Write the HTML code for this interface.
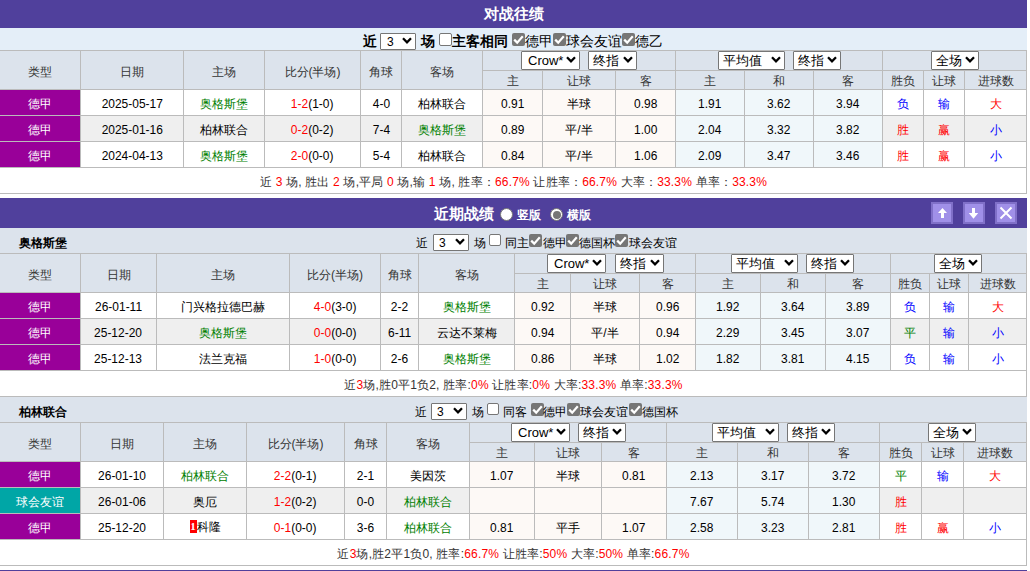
<!DOCTYPE html>
<html><head><meta charset="utf-8"><style>
html,body{margin:0;padding:0;background:#fff;}
body{width:1030px;height:571px;overflow:hidden;position:relative;font-family:"Liberation Sans",sans-serif;font-size:12px;color:#000000;}
body>div,body>span{position:absolute;box-sizing:content-box;}
.t{position:absolute;white-space:nowrap;line-height:16px;}
.c{display:flex;align-items:center;justify-content:center;white-space:nowrap;font-size:12px;}
.sel{background:#fff;border:1px solid #767676;border-radius:1px;}
.cb.on{background:#767676;border-radius:2px;}
.cb.off{background:#fff;border:1px solid #767676;border-radius:2px;}
.radio{border-radius:50%;}
</style></head><body>
<div style="left:0px;top:0px;width:1027px;height:28px;background:#50409c"></div><div class="c" style="left:0px;top:0px;width:1027px;height:28px;color:#fff;font-weight:bold;font-size:15px"><span>对战往绩</span></div><div style="left:0px;top:28px;width:1027px;height:22px;background:#e4eef8"></div><span class="t" style="left:363px;top:33px;font-weight:bold;font-size:14px">近</span><div class="sel" style="left:380px;top:33px;width:34px;height:15px;"><span style="position:absolute;left:6px;top:1px;line-height:15px;font-size:12px">3</span><svg width="10" height="7" viewBox="0 0 10 7" style="position:absolute;right:3px;top:50%;margin-top:-4.5px"><path d="M1 1.3 L5 5.3 L9 1.3" fill="none" stroke="#000" stroke-width="2.3"/></svg></div><span class="t" style="left:421px;top:33px;font-weight:bold;font-size:14px">场</span><div class="cb off" style="left:439px;top:33px;width:11px;height:11px;"></div><span class="t" style="left:452px;top:33px;font-weight:bold;font-size:14px">主客相同</span><div class="cb on" style="left:512px;top:33px;width:13px;height:13px;"><svg width="13" height="13" viewBox="0 0 13 13" style="position:absolute;left:0;top:0"><path d="M2.2 6.6 L5.2 9.6 L10.8 3.2" fill="none" stroke="#fff" stroke-width="2.2"/></svg></div><span class="t" style="left:525px;top:33px;font-size:14px">德甲</span><div class="cb on" style="left:553px;top:33px;width:13px;height:13px;"><svg width="13" height="13" viewBox="0 0 13 13" style="position:absolute;left:0;top:0"><path d="M2.2 6.6 L5.2 9.6 L10.8 3.2" fill="none" stroke="#fff" stroke-width="2.2"/></svg></div><span class="t" style="left:566px;top:33px;font-size:14px">球会友谊</span><div class="cb on" style="left:622px;top:33px;width:13px;height:13px;"><svg width="13" height="13" viewBox="0 0 13 13" style="position:absolute;left:0;top:0"><path d="M2.2 6.6 L5.2 9.6 L10.8 3.2" fill="none" stroke="#fff" stroke-width="2.2"/></svg></div><span class="t" style="left:635px;top:33px;font-size:14px">德乙</span><div style="left:0px;top:50px;width:1027px;height:40px;background:#dce3ec"></div><div style="left:0px;top:50px;width:1027px;height:1px;background:#bbbbbb"></div><div style="left:482px;top:70px;width:544px;height:1px;background:#bbbbbb"></div><div style="left:0px;top:89px;width:1027px;height:1px;background:#bbbbbb"></div><div class="c" style="left:0px;top:53px;width:80px;height:38px;color:#333"><span>类型</span></div><div class="c" style="left:81px;top:53px;width:102px;height:38px;color:#333"><span>日期</span></div><div class="c" style="left:184px;top:53px;width:80px;height:38px;color:#333"><span>主场</span></div><div class="c" style="left:265px;top:53px;width:95px;height:38px;color:#333"><span>比分(半场)</span></div><div class="c" style="left:361px;top:53px;width:40px;height:38px;color:#333"><span>角球</span></div><div class="c" style="left:402px;top:53px;width:80px;height:38px;color:#333"><span>客场</span></div><div class="c" style="left:483px;top:72px;width:59px;height:18px;color:#333"><span>主</span></div><div class="c" style="left:543px;top:72px;width:72px;height:18px;color:#333"><span>让球</span></div><div class="c" style="left:616px;top:72px;width:59px;height:18px;color:#333"><span>客</span></div><div class="c" style="left:676px;top:72px;width:68px;height:18px;color:#333"><span>主</span></div><div class="c" style="left:745px;top:72px;width:68px;height:18px;color:#333"><span>和</span></div><div class="c" style="left:814px;top:72px;width:68px;height:18px;color:#333"><span>客</span></div><div class="c" style="left:883px;top:72px;width:40px;height:18px;color:#333"><span>胜负</span></div><div class="c" style="left:924px;top:72px;width:40px;height:18px;color:#333"><span>让球</span></div><div class="c" style="left:965px;top:72px;width:61px;height:18px;color:#333"><span>进球数</span></div><div class="sel" style="left:521px;top:51px;width:57px;height:17px;"><span style="position:absolute;left:6px;top:0px;line-height:17px;font-size:13px">Crow*</span><svg width="10" height="7" viewBox="0 0 10 7" style="position:absolute;right:3px;top:50%;margin-top:-4.5px"><path d="M1 1.3 L5 5.3 L9 1.3" fill="none" stroke="#000" stroke-width="2.3"/></svg></div><div class="sel" style="left:588px;top:51px;width:47px;height:17px;"><span style="position:absolute;left:4px;top:0px;line-height:17px;font-size:13px">终指</span><svg width="10" height="7" viewBox="0 0 10 7" style="position:absolute;right:3px;top:50%;margin-top:-4.5px"><path d="M1 1.3 L5 5.3 L9 1.3" fill="none" stroke="#000" stroke-width="2.3"/></svg></div><div class="sel" style="left:718px;top:51px;width:65px;height:17px;"><span style="position:absolute;left:4px;top:0px;line-height:17px;font-size:13px">平均值</span><svg width="10" height="7" viewBox="0 0 10 7" style="position:absolute;right:3px;top:50%;margin-top:-4.5px"><path d="M1 1.3 L5 5.3 L9 1.3" fill="none" stroke="#000" stroke-width="2.3"/></svg></div><div class="sel" style="left:793px;top:51px;width:46px;height:17px;"><span style="position:absolute;left:4px;top:0px;line-height:17px;font-size:13px">终指</span><svg width="10" height="7" viewBox="0 0 10 7" style="position:absolute;right:3px;top:50%;margin-top:-4.5px"><path d="M1 1.3 L5 5.3 L9 1.3" fill="none" stroke="#000" stroke-width="2.3"/></svg></div><div class="sel" style="left:931px;top:51px;width:46px;height:17px;"><span style="position:absolute;left:4px;top:0px;line-height:17px;font-size:13px">全场</span><svg width="10" height="7" viewBox="0 0 10 7" style="position:absolute;right:3px;top:50%;margin-top:-4.5px"><path d="M1 1.3 L5 5.3 L9 1.3" fill="none" stroke="#000" stroke-width="2.3"/></svg></div><div style="left:0px;top:90px;width:1027px;height:25px;background:#ffffff"></div><div style="left:483px;top:90px;width:192px;height:25px;background:#fdf9f6"></div><div style="left:676px;top:90px;width:206px;height:25px;background:#f0f7fa"></div><div style="left:0px;top:90px;width:80px;height:25px;background:#990099"></div><div class="c" style="left:0px;top:92px;width:80px;height:25px;color:#ffffff"><span>德甲</span></div><div class="c" style="left:81px;top:91px;width:102px;height:25px;color:#000000"><span><span style="display:inline-block;font-size:13px;transform:scaleX(0.92)">2025-05-17</span></span></div><div class="c" style="left:184px;top:92px;width:80px;height:25px;color:#008000"><span>奥格斯堡</span></div><div class="c" style="left:265px;top:91px;width:95px;height:25px;color:#000000"><span><span style="display:inline-block;font-size:13px;transform:scaleX(0.92)"><span style="color:#ff0000">1-2</span>(1-0)</span></span></div><div class="c" style="left:361px;top:91px;width:40px;height:25px;color:#000000"><span><span style="display:inline-block;font-size:13px;transform:scaleX(0.92)">4-0</span></span></div><div class="c" style="left:402px;top:92px;width:80px;height:25px;color:#000000"><span>柏林联合</span></div><div class="c" style="left:483px;top:91px;width:59px;height:25px;color:#000000"><span><span style="display:inline-block;font-size:13px;transform:scaleX(0.92)">0.91</span></span></div><div class="c" style="left:543px;top:92px;width:72px;height:25px;color:#000000"><span>半球</span></div><div class="c" style="left:616px;top:91px;width:59px;height:25px;color:#000000"><span><span style="display:inline-block;font-size:13px;transform:scaleX(0.92)">0.98</span></span></div><div class="c" style="left:676px;top:91px;width:68px;height:25px;color:#000000"><span><span style="display:inline-block;font-size:13px;transform:scaleX(0.92)">1.91</span></span></div><div class="c" style="left:745px;top:91px;width:68px;height:25px;color:#000000"><span><span style="display:inline-block;font-size:13px;transform:scaleX(0.92)">3.62</span></span></div><div class="c" style="left:814px;top:91px;width:68px;height:25px;color:#000000"><span><span style="display:inline-block;font-size:13px;transform:scaleX(0.92)">3.94</span></span></div><div class="c" style="left:883px;top:92px;width:40px;height:25px;color:#0000ff"><span>负</span></div><div class="c" style="left:924px;top:92px;width:40px;height:25px;color:#0000ff"><span>输</span></div><div class="c" style="left:965px;top:92px;width:61px;height:25px;color:#ff0000"><span>大</span></div><div style="left:0px;top:115px;width:1027px;height:1px;background:#bbbbbb"></div><div style="left:0px;top:116px;width:1027px;height:25px;background:#efefef"></div><div style="left:483px;top:116px;width:192px;height:25px;background:#fdf9f6"></div><div style="left:676px;top:116px;width:206px;height:25px;background:#f0f7fa"></div><div style="left:0px;top:116px;width:80px;height:25px;background:#990099"></div><div class="c" style="left:0px;top:118px;width:80px;height:25px;color:#ffffff"><span>德甲</span></div><div class="c" style="left:81px;top:117px;width:102px;height:25px;color:#000000"><span><span style="display:inline-block;font-size:13px;transform:scaleX(0.92)">2025-01-16</span></span></div><div class="c" style="left:184px;top:118px;width:80px;height:25px;color:#000000"><span>柏林联合</span></div><div class="c" style="left:265px;top:117px;width:95px;height:25px;color:#000000"><span><span style="display:inline-block;font-size:13px;transform:scaleX(0.92)"><span style="color:#ff0000">0-2</span>(0-2)</span></span></div><div class="c" style="left:361px;top:117px;width:40px;height:25px;color:#000000"><span><span style="display:inline-block;font-size:13px;transform:scaleX(0.92)">7-4</span></span></div><div class="c" style="left:402px;top:118px;width:80px;height:25px;color:#008000"><span>奥格斯堡</span></div><div class="c" style="left:483px;top:117px;width:59px;height:25px;color:#000000"><span><span style="display:inline-block;font-size:13px;transform:scaleX(0.92)">0.89</span></span></div><div class="c" style="left:543px;top:118px;width:72px;height:25px;color:#000000"><span>平/半</span></div><div class="c" style="left:616px;top:117px;width:59px;height:25px;color:#000000"><span><span style="display:inline-block;font-size:13px;transform:scaleX(0.92)">1.00</span></span></div><div class="c" style="left:676px;top:117px;width:68px;height:25px;color:#000000"><span><span style="display:inline-block;font-size:13px;transform:scaleX(0.92)">2.04</span></span></div><div class="c" style="left:745px;top:117px;width:68px;height:25px;color:#000000"><span><span style="display:inline-block;font-size:13px;transform:scaleX(0.92)">3.32</span></span></div><div class="c" style="left:814px;top:117px;width:68px;height:25px;color:#000000"><span><span style="display:inline-block;font-size:13px;transform:scaleX(0.92)">3.82</span></span></div><div class="c" style="left:883px;top:118px;width:40px;height:25px;color:#ff0000"><span>胜</span></div><div class="c" style="left:924px;top:118px;width:40px;height:25px;color:#ff0000"><span>赢</span></div><div class="c" style="left:965px;top:118px;width:61px;height:25px;color:#0000ff"><span>小</span></div><div style="left:0px;top:141px;width:1027px;height:1px;background:#bbbbbb"></div><div style="left:0px;top:142px;width:1027px;height:25px;background:#ffffff"></div><div style="left:483px;top:142px;width:192px;height:25px;background:#fdf9f6"></div><div style="left:676px;top:142px;width:206px;height:25px;background:#f0f7fa"></div><div style="left:0px;top:142px;width:80px;height:25px;background:#990099"></div><div class="c" style="left:0px;top:144px;width:80px;height:25px;color:#ffffff"><span>德甲</span></div><div class="c" style="left:81px;top:143px;width:102px;height:25px;color:#000000"><span><span style="display:inline-block;font-size:13px;transform:scaleX(0.92)">2024-04-13</span></span></div><div class="c" style="left:184px;top:144px;width:80px;height:25px;color:#008000"><span>奥格斯堡</span></div><div class="c" style="left:265px;top:143px;width:95px;height:25px;color:#000000"><span><span style="display:inline-block;font-size:13px;transform:scaleX(0.92)"><span style="color:#ff0000">2-0</span>(0-0)</span></span></div><div class="c" style="left:361px;top:143px;width:40px;height:25px;color:#000000"><span><span style="display:inline-block;font-size:13px;transform:scaleX(0.92)">5-4</span></span></div><div class="c" style="left:402px;top:144px;width:80px;height:25px;color:#000000"><span>柏林联合</span></div><div class="c" style="left:483px;top:143px;width:59px;height:25px;color:#000000"><span><span style="display:inline-block;font-size:13px;transform:scaleX(0.92)">0.84</span></span></div><div class="c" style="left:543px;top:144px;width:72px;height:25px;color:#000000"><span>平/半</span></div><div class="c" style="left:616px;top:143px;width:59px;height:25px;color:#000000"><span><span style="display:inline-block;font-size:13px;transform:scaleX(0.92)">1.06</span></span></div><div class="c" style="left:676px;top:143px;width:68px;height:25px;color:#000000"><span><span style="display:inline-block;font-size:13px;transform:scaleX(0.92)">2.09</span></span></div><div class="c" style="left:745px;top:143px;width:68px;height:25px;color:#000000"><span><span style="display:inline-block;font-size:13px;transform:scaleX(0.92)">3.47</span></span></div><div class="c" style="left:814px;top:143px;width:68px;height:25px;color:#000000"><span><span style="display:inline-block;font-size:13px;transform:scaleX(0.92)">3.46</span></span></div><div class="c" style="left:883px;top:144px;width:40px;height:25px;color:#ff0000"><span>胜</span></div><div class="c" style="left:924px;top:144px;width:40px;height:25px;color:#ff0000"><span>赢</span></div><div class="c" style="left:965px;top:144px;width:61px;height:25px;color:#0000ff"><span>小</span></div><div style="left:0px;top:167px;width:1027px;height:1px;background:#bbbbbb"></div><div style="left:0px;top:168px;width:1027px;height:25px;background:#fff"></div><div class="c" style="left:0px;top:170px;width:1027px;height:25px;letter-spacing:0.18px;color:#333"><span>近 <span style="color:#ff0000">3</span> 场, 胜出 <span style="color:#ff0000">2</span> 场,平局 <span style="color:#ff0000">0</span> 场,输 <span style="color:#ff0000">1</span> 场, 胜率：<span style="color:#ff0000">66.7%</span> 让胜率：<span style="color:#ff0000">66.7%</span> 大率：<span style="color:#ff0000">33.3%</span> 单率：<span style="color:#ff0000">33.3%</span></span></div><div style="left:0px;top:193px;width:1027px;height:1px;background:#bbbbbb"></div><div style="left:80px;top:50px;width:1px;height:118px;background:#bbbbbb"></div><div style="left:183px;top:50px;width:1px;height:118px;background:#bbbbbb"></div><div style="left:264px;top:50px;width:1px;height:118px;background:#bbbbbb"></div><div style="left:360px;top:50px;width:1px;height:118px;background:#bbbbbb"></div><div style="left:401px;top:50px;width:1px;height:118px;background:#bbbbbb"></div><div style="left:482px;top:50px;width:1px;height:118px;background:#bbbbbb"></div><div style="left:542px;top:70px;width:1px;height:98px;background:#bbbbbb"></div><div style="left:615px;top:70px;width:1px;height:98px;background:#bbbbbb"></div><div style="left:675px;top:50px;width:1px;height:118px;background:#bbbbbb"></div><div style="left:744px;top:70px;width:1px;height:98px;background:#bbbbbb"></div><div style="left:813px;top:70px;width:1px;height:98px;background:#bbbbbb"></div><div style="left:882px;top:50px;width:1px;height:118px;background:#bbbbbb"></div><div style="left:923px;top:70px;width:1px;height:98px;background:#bbbbbb"></div><div style="left:964px;top:70px;width:1px;height:98px;background:#bbbbbb"></div><div style="left:1026px;top:50px;width:1px;height:118px;background:#bbbbbb"></div><div style="left:1026px;top:168px;width:1px;height:26px;background:#bbbbbb"></div><div style="left:0px;top:198px;width:1027px;height:30px;background:#50409c"></div><span class="t" style="left:434px;top:206px;color:#fff;font-weight:bold;font-size:15px">近期战绩</span><div class="radio" style="left:500px;top:208px;width:11px;height:11px;background:#fff;border:1px solid #767676"></div><span class="t" style="left:517px;top:207px;color:#fff;font-size:12px;font-weight:bold">竖版</span><div class="radio" style="left:550px;top:208px;width:11px;height:11px;background:#fff;border:1px solid #767676"><div style="position:absolute;left:1.5px;top:1.5px;width:8px;height:8px;border-radius:50%;background:#767676"></div></div><span class="t" style="left:567px;top:207px;color:#fff;font-size:12px;font-weight:bold">横版</span><div style="left:931px;top:202px;width:18px;height:18px;background:#a090e8;border:2px solid #8070c8"><svg width="22" height="22" viewBox="0 0 22 22" style="position:absolute;left:-2px;top:-2px"><path d="M11.5 6 L16 11 L13 11 L13 16 L10 16 L10 11 L7 11 Z" fill="#fff"/></svg></div><div style="left:963px;top:202px;width:18px;height:18px;background:#a090e8;border:2px solid #8070c8"><svg width="22" height="22" viewBox="0 0 22 22" style="position:absolute;left:-2px;top:-2px"><path d="M9 6 L12 6 L12 11 L15.2 11 L10.5 16.8 L5.8 11 L9 11 Z" fill="#fff"/></svg></div><div style="left:995px;top:202px;width:18px;height:18px;background:#a090e8;border:2px solid #8070c8"><svg width="22" height="22" viewBox="0 0 22 22" style="position:absolute;left:-2px;top:-2px"><path d="M5.5 5.5 L16.5 16.5 M16.5 5.5 L5.5 16.5" stroke="#fff" stroke-width="2" fill="none"/></svg></div><div style="left:0px;top:228px;width:1027px;height:25px;background:#dce3ec"></div><span class="t" style="left:19px;top:235px;font-weight:bold;font-size:12px">奥格斯堡</span><span class="t" style="left:416px;top:235px;font-size:12px">近</span><div class="sel" style="left:433px;top:234px;width:34px;height:15px;"><span style="position:absolute;left:5px;top:1px;line-height:15px;font-size:12px">3</span><svg width="10" height="7" viewBox="0 0 10 7" style="position:absolute;right:3px;top:50%;margin-top:-4.5px"><path d="M1 1.3 L5 5.3 L9 1.3" fill="none" stroke="#000" stroke-width="2.3"/></svg></div><span class="t" style="left:474px;top:235px;font-size:12px">场</span><div class="cb off" style="left:489px;top:234px;width:10px;height:10px;"></div><span class="t" style="left:505px;top:235px;font-size:12px">同主</span><div class="cb on" style="left:529px;top:234px;width:13px;height:13px;"><svg width="13" height="13" viewBox="0 0 13 13" style="position:absolute;left:0;top:0"><path d="M2.2 6.6 L5.2 9.6 L10.8 3.2" fill="none" stroke="#fff" stroke-width="2.2"/></svg></div><span class="t" style="left:543px;top:235px;font-size:12px">德甲</span><div class="cb on" style="left:566px;top:234px;width:13px;height:13px;"><svg width="13" height="13" viewBox="0 0 13 13" style="position:absolute;left:0;top:0"><path d="M2.2 6.6 L5.2 9.6 L10.8 3.2" fill="none" stroke="#fff" stroke-width="2.2"/></svg></div><span class="t" style="left:579px;top:235px;font-size:12px">德国杯</span><div class="cb on" style="left:615px;top:234px;width:13px;height:13px;"><svg width="13" height="13" viewBox="0 0 13 13" style="position:absolute;left:0;top:0"><path d="M2.2 6.6 L5.2 9.6 L10.8 3.2" fill="none" stroke="#fff" stroke-width="2.2"/></svg></div><span class="t" style="left:629px;top:235px;font-size:12px">球会友谊</span><div style="left:0px;top:253px;width:1027px;height:40px;background:#dce3ec"></div><div style="left:0px;top:253px;width:1027px;height:1px;background:#bbbbbb"></div><div style="left:514px;top:273px;width:512px;height:1px;background:#bbbbbb"></div><div style="left:0px;top:292px;width:1027px;height:1px;background:#bbbbbb"></div><div class="c" style="left:0px;top:256px;width:80px;height:38px;color:#333"><span>类型</span></div><div class="c" style="left:81px;top:256px;width:75px;height:38px;color:#333"><span>日期</span></div><div class="c" style="left:157px;top:256px;width:132px;height:38px;color:#333"><span>主场</span></div><div class="c" style="left:290px;top:256px;width:90px;height:38px;color:#333"><span>比分(半场)</span></div><div class="c" style="left:381px;top:256px;width:37px;height:38px;color:#333"><span>角球</span></div><div class="c" style="left:419px;top:256px;width:95px;height:38px;color:#333"><span>客场</span></div><div class="c" style="left:515px;top:275px;width:55px;height:18px;color:#333"><span>主</span></div><div class="c" style="left:571px;top:275px;width:68px;height:18px;color:#333"><span>让球</span></div><div class="c" style="left:640px;top:275px;width:55px;height:18px;color:#333"><span>客</span></div><div class="c" style="left:696px;top:275px;width:64px;height:18px;color:#333"><span>主</span></div><div class="c" style="left:761px;top:275px;width:64px;height:18px;color:#333"><span>和</span></div><div class="c" style="left:826px;top:275px;width:64px;height:18px;color:#333"><span>客</span></div><div class="c" style="left:891px;top:275px;width:38px;height:18px;color:#333"><span>胜负</span></div><div class="c" style="left:930px;top:275px;width:38px;height:18px;color:#333"><span>让球</span></div><div class="c" style="left:969px;top:275px;width:57px;height:18px;color:#333"><span>进球数</span></div><div class="sel" style="left:547px;top:254px;width:57px;height:17px;"><span style="position:absolute;left:6px;top:0px;line-height:17px;font-size:13px">Crow*</span><svg width="10" height="7" viewBox="0 0 10 7" style="position:absolute;right:3px;top:50%;margin-top:-4.5px"><path d="M1 1.3 L5 5.3 L9 1.3" fill="none" stroke="#000" stroke-width="2.3"/></svg></div><div class="sel" style="left:615px;top:254px;width:47px;height:17px;"><span style="position:absolute;left:4px;top:0px;line-height:17px;font-size:13px">终指</span><svg width="10" height="7" viewBox="0 0 10 7" style="position:absolute;right:3px;top:50%;margin-top:-4.5px"><path d="M1 1.3 L5 5.3 L9 1.3" fill="none" stroke="#000" stroke-width="2.3"/></svg></div><div class="sel" style="left:731px;top:254px;width:65px;height:17px;"><span style="position:absolute;left:4px;top:0px;line-height:17px;font-size:13px">平均值</span><svg width="10" height="7" viewBox="0 0 10 7" style="position:absolute;right:3px;top:50%;margin-top:-4.5px"><path d="M1 1.3 L5 5.3 L9 1.3" fill="none" stroke="#000" stroke-width="2.3"/></svg></div><div class="sel" style="left:806px;top:254px;width:46px;height:17px;"><span style="position:absolute;left:4px;top:0px;line-height:17px;font-size:13px">终指</span><svg width="10" height="7" viewBox="0 0 10 7" style="position:absolute;right:3px;top:50%;margin-top:-4.5px"><path d="M1 1.3 L5 5.3 L9 1.3" fill="none" stroke="#000" stroke-width="2.3"/></svg></div><div class="sel" style="left:934px;top:254px;width:46px;height:17px;"><span style="position:absolute;left:4px;top:0px;line-height:17px;font-size:13px">全场</span><svg width="10" height="7" viewBox="0 0 10 7" style="position:absolute;right:3px;top:50%;margin-top:-4.5px"><path d="M1 1.3 L5 5.3 L9 1.3" fill="none" stroke="#000" stroke-width="2.3"/></svg></div><div style="left:0px;top:293px;width:1027px;height:25px;background:#ffffff"></div><div style="left:515px;top:293px;width:180px;height:25px;background:#fdf9f6"></div><div style="left:696px;top:293px;width:194px;height:25px;background:#f0f7fa"></div><div style="left:0px;top:293px;width:80px;height:25px;background:#990099"></div><div class="c" style="left:0px;top:295px;width:80px;height:25px;color:#ffffff"><span>德甲</span></div><div class="c" style="left:81px;top:294px;width:75px;height:25px;color:#000000"><span><span style="display:inline-block;font-size:13px;transform:scaleX(0.92)">26-01-11</span></span></div><div class="c" style="left:157px;top:295px;width:132px;height:25px;color:#000000"><span>门兴格拉德巴赫</span></div><div class="c" style="left:290px;top:294px;width:90px;height:25px;color:#000000"><span><span style="display:inline-block;font-size:13px;transform:scaleX(0.92)"><span style="color:#ff0000">4-0</span>(3-0)</span></span></div><div class="c" style="left:381px;top:294px;width:37px;height:25px;color:#000000"><span><span style="display:inline-block;font-size:13px;transform:scaleX(0.92)">2-2</span></span></div><div class="c" style="left:419px;top:295px;width:95px;height:25px;color:#008000"><span>奥格斯堡</span></div><div class="c" style="left:515px;top:294px;width:55px;height:25px;color:#000000"><span><span style="display:inline-block;font-size:13px;transform:scaleX(0.92)">0.92</span></span></div><div class="c" style="left:571px;top:295px;width:68px;height:25px;color:#000000"><span>半球</span></div><div class="c" style="left:640px;top:294px;width:55px;height:25px;color:#000000"><span><span style="display:inline-block;font-size:13px;transform:scaleX(0.92)">0.96</span></span></div><div class="c" style="left:696px;top:294px;width:64px;height:25px;color:#000000"><span><span style="display:inline-block;font-size:13px;transform:scaleX(0.92)">1.92</span></span></div><div class="c" style="left:761px;top:294px;width:64px;height:25px;color:#000000"><span><span style="display:inline-block;font-size:13px;transform:scaleX(0.92)">3.64</span></span></div><div class="c" style="left:826px;top:294px;width:64px;height:25px;color:#000000"><span><span style="display:inline-block;font-size:13px;transform:scaleX(0.92)">3.89</span></span></div><div class="c" style="left:891px;top:295px;width:38px;height:25px;color:#0000ff"><span>负</span></div><div class="c" style="left:930px;top:295px;width:38px;height:25px;color:#0000ff"><span>输</span></div><div class="c" style="left:969px;top:295px;width:57px;height:25px;color:#ff0000"><span>大</span></div><div style="left:0px;top:318px;width:1027px;height:1px;background:#bbbbbb"></div><div style="left:0px;top:319px;width:1027px;height:25px;background:#efefef"></div><div style="left:515px;top:319px;width:180px;height:25px;background:#fdf9f6"></div><div style="left:696px;top:319px;width:194px;height:25px;background:#f0f7fa"></div><div style="left:0px;top:319px;width:80px;height:25px;background:#990099"></div><div class="c" style="left:0px;top:321px;width:80px;height:25px;color:#ffffff"><span>德甲</span></div><div class="c" style="left:81px;top:320px;width:75px;height:25px;color:#000000"><span><span style="display:inline-block;font-size:13px;transform:scaleX(0.92)">25-12-20</span></span></div><div class="c" style="left:157px;top:321px;width:132px;height:25px;color:#008000"><span>奥格斯堡</span></div><div class="c" style="left:290px;top:320px;width:90px;height:25px;color:#000000"><span><span style="display:inline-block;font-size:13px;transform:scaleX(0.92)"><span style="color:#ff0000">0-0</span>(0-0)</span></span></div><div class="c" style="left:381px;top:320px;width:37px;height:25px;color:#000000"><span><span style="display:inline-block;font-size:13px;transform:scaleX(0.92)">6-11</span></span></div><div class="c" style="left:419px;top:321px;width:95px;height:25px;color:#000000"><span>云达不莱梅</span></div><div class="c" style="left:515px;top:320px;width:55px;height:25px;color:#000000"><span><span style="display:inline-block;font-size:13px;transform:scaleX(0.92)">0.94</span></span></div><div class="c" style="left:571px;top:321px;width:68px;height:25px;color:#000000"><span>平/半</span></div><div class="c" style="left:640px;top:320px;width:55px;height:25px;color:#000000"><span><span style="display:inline-block;font-size:13px;transform:scaleX(0.92)">0.94</span></span></div><div class="c" style="left:696px;top:320px;width:64px;height:25px;color:#000000"><span><span style="display:inline-block;font-size:13px;transform:scaleX(0.92)">2.29</span></span></div><div class="c" style="left:761px;top:320px;width:64px;height:25px;color:#000000"><span><span style="display:inline-block;font-size:13px;transform:scaleX(0.92)">3.45</span></span></div><div class="c" style="left:826px;top:320px;width:64px;height:25px;color:#000000"><span><span style="display:inline-block;font-size:13px;transform:scaleX(0.92)">3.07</span></span></div><div class="c" style="left:891px;top:321px;width:38px;height:25px;color:#008000"><span>平</span></div><div class="c" style="left:930px;top:321px;width:38px;height:25px;color:#0000ff"><span>输</span></div><div class="c" style="left:969px;top:321px;width:57px;height:25px;color:#0000ff"><span>小</span></div><div style="left:0px;top:344px;width:1027px;height:1px;background:#bbbbbb"></div><div style="left:0px;top:345px;width:1027px;height:25px;background:#ffffff"></div><div style="left:515px;top:345px;width:180px;height:25px;background:#fdf9f6"></div><div style="left:696px;top:345px;width:194px;height:25px;background:#f0f7fa"></div><div style="left:0px;top:345px;width:80px;height:25px;background:#990099"></div><div class="c" style="left:0px;top:347px;width:80px;height:25px;color:#ffffff"><span>德甲</span></div><div class="c" style="left:81px;top:346px;width:75px;height:25px;color:#000000"><span><span style="display:inline-block;font-size:13px;transform:scaleX(0.92)">25-12-13</span></span></div><div class="c" style="left:157px;top:347px;width:132px;height:25px;color:#000000"><span>法兰克福</span></div><div class="c" style="left:290px;top:346px;width:90px;height:25px;color:#000000"><span><span style="display:inline-block;font-size:13px;transform:scaleX(0.92)"><span style="color:#ff0000">1-0</span>(0-0)</span></span></div><div class="c" style="left:381px;top:346px;width:37px;height:25px;color:#000000"><span><span style="display:inline-block;font-size:13px;transform:scaleX(0.92)">2-6</span></span></div><div class="c" style="left:419px;top:347px;width:95px;height:25px;color:#008000"><span>奥格斯堡</span></div><div class="c" style="left:515px;top:346px;width:55px;height:25px;color:#000000"><span><span style="display:inline-block;font-size:13px;transform:scaleX(0.92)">0.86</span></span></div><div class="c" style="left:571px;top:347px;width:68px;height:25px;color:#000000"><span>半球</span></div><div class="c" style="left:640px;top:346px;width:55px;height:25px;color:#000000"><span><span style="display:inline-block;font-size:13px;transform:scaleX(0.92)">1.02</span></span></div><div class="c" style="left:696px;top:346px;width:64px;height:25px;color:#000000"><span><span style="display:inline-block;font-size:13px;transform:scaleX(0.92)">1.82</span></span></div><div class="c" style="left:761px;top:346px;width:64px;height:25px;color:#000000"><span><span style="display:inline-block;font-size:13px;transform:scaleX(0.92)">3.81</span></span></div><div class="c" style="left:826px;top:346px;width:64px;height:25px;color:#000000"><span><span style="display:inline-block;font-size:13px;transform:scaleX(0.92)">4.15</span></span></div><div class="c" style="left:891px;top:347px;width:38px;height:25px;color:#0000ff"><span>负</span></div><div class="c" style="left:930px;top:347px;width:38px;height:25px;color:#0000ff"><span>输</span></div><div class="c" style="left:969px;top:347px;width:57px;height:25px;color:#0000ff"><span>小</span></div><div style="left:0px;top:370px;width:1027px;height:1px;background:#bbbbbb"></div><div style="left:0px;top:371px;width:1027px;height:25px;background:#fff"></div><div class="c" style="left:0px;top:373px;width:1027px;height:25px;letter-spacing:0.18px;color:#333"><span>近<span style="color:#ff0000">3</span>场,胜0平1负2, 胜率:<span style="color:#ff0000">0%</span> 让胜率:<span style="color:#ff0000">0%</span> 大率:<span style="color:#ff0000">33.3%</span> 单率:<span style="color:#ff0000">33.3%</span></span></div><div style="left:0px;top:396px;width:1027px;height:1px;background:#bbbbbb"></div><div style="left:80px;top:253px;width:1px;height:118px;background:#bbbbbb"></div><div style="left:156px;top:253px;width:1px;height:118px;background:#bbbbbb"></div><div style="left:289px;top:253px;width:1px;height:118px;background:#bbbbbb"></div><div style="left:380px;top:253px;width:1px;height:118px;background:#bbbbbb"></div><div style="left:418px;top:253px;width:1px;height:118px;background:#bbbbbb"></div><div style="left:514px;top:253px;width:1px;height:118px;background:#bbbbbb"></div><div style="left:570px;top:273px;width:1px;height:98px;background:#bbbbbb"></div><div style="left:639px;top:273px;width:1px;height:98px;background:#bbbbbb"></div><div style="left:695px;top:253px;width:1px;height:118px;background:#bbbbbb"></div><div style="left:760px;top:273px;width:1px;height:98px;background:#bbbbbb"></div><div style="left:825px;top:273px;width:1px;height:98px;background:#bbbbbb"></div><div style="left:890px;top:253px;width:1px;height:118px;background:#bbbbbb"></div><div style="left:929px;top:273px;width:1px;height:98px;background:#bbbbbb"></div><div style="left:968px;top:273px;width:1px;height:98px;background:#bbbbbb"></div><div style="left:1026px;top:253px;width:1px;height:118px;background:#bbbbbb"></div><div style="left:1026px;top:371px;width:1px;height:26px;background:#bbbbbb"></div><div style="left:0px;top:397px;width:1027px;height:25px;background:#dce3ec"></div><span class="t" style="left:19px;top:404px;font-weight:bold;font-size:12px">柏林联合</span><span class="t" style="left:415px;top:404px;font-size:12px">近</span><div class="sel" style="left:431px;top:403px;width:34px;height:15px;"><span style="position:absolute;left:5px;top:1px;line-height:15px;font-size:12px">3</span><svg width="10" height="7" viewBox="0 0 10 7" style="position:absolute;right:3px;top:50%;margin-top:-4.5px"><path d="M1 1.3 L5 5.3 L9 1.3" fill="none" stroke="#000" stroke-width="2.3"/></svg></div><span class="t" style="left:472px;top:404px;font-size:12px">场</span><div class="cb off" style="left:487px;top:403px;width:10px;height:10px;"></div><span class="t" style="left:503px;top:404px;font-size:12px">同客</span><div class="cb on" style="left:531px;top:403px;width:13px;height:13px;"><svg width="13" height="13" viewBox="0 0 13 13" style="position:absolute;left:0;top:0"><path d="M2.2 6.6 L5.2 9.6 L10.8 3.2" fill="none" stroke="#fff" stroke-width="2.2"/></svg></div><span class="t" style="left:543px;top:404px;font-size:12px">德甲</span><div class="cb on" style="left:567px;top:403px;width:13px;height:13px;"><svg width="13" height="13" viewBox="0 0 13 13" style="position:absolute;left:0;top:0"><path d="M2.2 6.6 L5.2 9.6 L10.8 3.2" fill="none" stroke="#fff" stroke-width="2.2"/></svg></div><span class="t" style="left:580px;top:404px;font-size:12px">球会友谊</span><div class="cb on" style="left:629px;top:403px;width:13px;height:13px;"><svg width="13" height="13" viewBox="0 0 13 13" style="position:absolute;left:0;top:0"><path d="M2.2 6.6 L5.2 9.6 L10.8 3.2" fill="none" stroke="#fff" stroke-width="2.2"/></svg></div><span class="t" style="left:642px;top:404px;font-size:12px">德国杯</span><div style="left:0px;top:422px;width:1027px;height:40px;background:#dce3ec"></div><div style="left:0px;top:422px;width:1027px;height:1px;background:#bbbbbb"></div><div style="left:469px;top:442px;width:557px;height:1px;background:#bbbbbb"></div><div style="left:0px;top:461px;width:1027px;height:1px;background:#bbbbbb"></div><div class="c" style="left:0px;top:425px;width:80px;height:38px;color:#333"><span>类型</span></div><div class="c" style="left:81px;top:425px;width:82px;height:38px;color:#333"><span>日期</span></div><div class="c" style="left:164px;top:425px;width:82px;height:38px;color:#333"><span>主场</span></div><div class="c" style="left:247px;top:425px;width:97px;height:38px;color:#333"><span>比分(半场)</span></div><div class="c" style="left:345px;top:425px;width:41px;height:38px;color:#333"><span>角球</span></div><div class="c" style="left:387px;top:425px;width:82px;height:38px;color:#333"><span>客场</span></div><div class="c" style="left:470px;top:444px;width:64px;height:18px;color:#333"><span>主</span></div><div class="c" style="left:535px;top:444px;width:66px;height:18px;color:#333"><span>让球</span></div><div class="c" style="left:602px;top:444px;width:64px;height:18px;color:#333"><span>客</span></div><div class="c" style="left:667px;top:444px;width:70px;height:18px;color:#333"><span>主</span></div><div class="c" style="left:738px;top:444px;width:70px;height:18px;color:#333"><span>和</span></div><div class="c" style="left:809px;top:444px;width:70px;height:18px;color:#333"><span>客</span></div><div class="c" style="left:880px;top:444px;width:41px;height:18px;color:#333"><span>胜负</span></div><div class="c" style="left:922px;top:444px;width:41px;height:18px;color:#333"><span>让球</span></div><div class="c" style="left:964px;top:444px;width:62px;height:18px;color:#333"><span>进球数</span></div><div class="sel" style="left:511px;top:423px;width:57px;height:17px;"><span style="position:absolute;left:6px;top:0px;line-height:17px;font-size:13px">Crow*</span><svg width="10" height="7" viewBox="0 0 10 7" style="position:absolute;right:3px;top:50%;margin-top:-4.5px"><path d="M1 1.3 L5 5.3 L9 1.3" fill="none" stroke="#000" stroke-width="2.3"/></svg></div><div class="sel" style="left:578px;top:423px;width:46px;height:17px;"><span style="position:absolute;left:4px;top:0px;line-height:17px;font-size:13px">终指</span><svg width="10" height="7" viewBox="0 0 10 7" style="position:absolute;right:3px;top:50%;margin-top:-4.5px"><path d="M1 1.3 L5 5.3 L9 1.3" fill="none" stroke="#000" stroke-width="2.3"/></svg></div><div class="sel" style="left:712px;top:423px;width:65px;height:17px;"><span style="position:absolute;left:4px;top:0px;line-height:17px;font-size:13px">平均值</span><svg width="10" height="7" viewBox="0 0 10 7" style="position:absolute;right:3px;top:50%;margin-top:-4.5px"><path d="M1 1.3 L5 5.3 L9 1.3" fill="none" stroke="#000" stroke-width="2.3"/></svg></div><div class="sel" style="left:787px;top:423px;width:46px;height:17px;"><span style="position:absolute;left:4px;top:0px;line-height:17px;font-size:13px">终指</span><svg width="10" height="7" viewBox="0 0 10 7" style="position:absolute;right:3px;top:50%;margin-top:-4.5px"><path d="M1 1.3 L5 5.3 L9 1.3" fill="none" stroke="#000" stroke-width="2.3"/></svg></div><div class="sel" style="left:928px;top:423px;width:46px;height:17px;"><span style="position:absolute;left:4px;top:0px;line-height:17px;font-size:13px">全场</span><svg width="10" height="7" viewBox="0 0 10 7" style="position:absolute;right:3px;top:50%;margin-top:-4.5px"><path d="M1 1.3 L5 5.3 L9 1.3" fill="none" stroke="#000" stroke-width="2.3"/></svg></div><div style="left:0px;top:462px;width:1027px;height:25px;background:#ffffff"></div><div style="left:470px;top:462px;width:196px;height:25px;background:#fdf9f6"></div><div style="left:667px;top:462px;width:212px;height:25px;background:#f0f7fa"></div><div style="left:0px;top:462px;width:80px;height:25px;background:#990099"></div><div class="c" style="left:0px;top:464px;width:80px;height:25px;color:#ffffff"><span>德甲</span></div><div class="c" style="left:81px;top:463px;width:82px;height:25px;color:#000000"><span><span style="display:inline-block;font-size:13px;transform:scaleX(0.92)">26-01-10</span></span></div><div class="c" style="left:164px;top:464px;width:82px;height:25px;color:#008000"><span>柏林联合</span></div><div class="c" style="left:247px;top:463px;width:97px;height:25px;color:#000000"><span><span style="display:inline-block;font-size:13px;transform:scaleX(0.92)"><span style="color:#ff0000">2-2</span>(0-1)</span></span></div><div class="c" style="left:345px;top:463px;width:41px;height:25px;color:#000000"><span><span style="display:inline-block;font-size:13px;transform:scaleX(0.92)">2-1</span></span></div><div class="c" style="left:387px;top:464px;width:82px;height:25px;color:#000000"><span>美因茨</span></div><div class="c" style="left:470px;top:463px;width:64px;height:25px;color:#000000"><span><span style="display:inline-block;font-size:13px;transform:scaleX(0.92)">1.07</span></span></div><div class="c" style="left:535px;top:464px;width:66px;height:25px;color:#000000"><span>半球</span></div><div class="c" style="left:602px;top:463px;width:64px;height:25px;color:#000000"><span><span style="display:inline-block;font-size:13px;transform:scaleX(0.92)">0.81</span></span></div><div class="c" style="left:667px;top:463px;width:70px;height:25px;color:#000000"><span><span style="display:inline-block;font-size:13px;transform:scaleX(0.92)">2.13</span></span></div><div class="c" style="left:738px;top:463px;width:70px;height:25px;color:#000000"><span><span style="display:inline-block;font-size:13px;transform:scaleX(0.92)">3.17</span></span></div><div class="c" style="left:809px;top:463px;width:70px;height:25px;color:#000000"><span><span style="display:inline-block;font-size:13px;transform:scaleX(0.92)">3.72</span></span></div><div class="c" style="left:880px;top:464px;width:41px;height:25px;color:#008000"><span>平</span></div><div class="c" style="left:922px;top:464px;width:41px;height:25px;color:#0000ff"><span>输</span></div><div class="c" style="left:964px;top:464px;width:62px;height:25px;color:#ff0000"><span>大</span></div><div style="left:0px;top:487px;width:1027px;height:1px;background:#bbbbbb"></div><div style="left:0px;top:488px;width:1027px;height:25px;background:#efefef"></div><div style="left:470px;top:488px;width:196px;height:25px;background:#fdf9f6"></div><div style="left:667px;top:488px;width:212px;height:25px;background:#f0f7fa"></div><div style="left:0px;top:488px;width:80px;height:25px;background:#00a6a6"></div><div class="c" style="left:0px;top:490px;width:80px;height:25px;color:#ffffff"><span>球会友谊</span></div><div class="c" style="left:81px;top:489px;width:82px;height:25px;color:#000000"><span><span style="display:inline-block;font-size:13px;transform:scaleX(0.92)">26-01-06</span></span></div><div class="c" style="left:164px;top:490px;width:82px;height:25px;color:#000000"><span>奥厄</span></div><div class="c" style="left:247px;top:489px;width:97px;height:25px;color:#000000"><span><span style="display:inline-block;font-size:13px;transform:scaleX(0.92)"><span style="color:#ff0000">1-2</span>(0-2)</span></span></div><div class="c" style="left:345px;top:489px;width:41px;height:25px;color:#000000"><span><span style="display:inline-block;font-size:13px;transform:scaleX(0.92)">0-0</span></span></div><div class="c" style="left:387px;top:490px;width:82px;height:25px;color:#008000"><span>柏林联合</span></div><div class="c" style="left:470px;top:490px;width:64px;height:25px;color:#000000"><span></span></div><div class="c" style="left:535px;top:490px;width:66px;height:25px;color:#000000"><span></span></div><div class="c" style="left:602px;top:490px;width:64px;height:25px;color:#000000"><span></span></div><div class="c" style="left:667px;top:489px;width:70px;height:25px;color:#000000"><span><span style="display:inline-block;font-size:13px;transform:scaleX(0.92)">7.67</span></span></div><div class="c" style="left:738px;top:489px;width:70px;height:25px;color:#000000"><span><span style="display:inline-block;font-size:13px;transform:scaleX(0.92)">5.74</span></span></div><div class="c" style="left:809px;top:489px;width:70px;height:25px;color:#000000"><span><span style="display:inline-block;font-size:13px;transform:scaleX(0.92)">1.30</span></span></div><div class="c" style="left:880px;top:490px;width:41px;height:25px;color:#ff0000"><span>胜</span></div><div class="c" style="left:922px;top:490px;width:41px;height:25px;color:#000000"><span></span></div><div class="c" style="left:964px;top:490px;width:62px;height:25px;color:#000000"><span></span></div><div style="left:0px;top:513px;width:1027px;height:1px;background:#bbbbbb"></div><div style="left:0px;top:514px;width:1027px;height:25px;background:#ffffff"></div><div style="left:470px;top:514px;width:196px;height:25px;background:#fdf9f6"></div><div style="left:667px;top:514px;width:212px;height:25px;background:#f0f7fa"></div><div style="left:0px;top:514px;width:80px;height:25px;background:#990099"></div><div class="c" style="left:0px;top:516px;width:80px;height:25px;color:#ffffff"><span>德甲</span></div><div class="c" style="left:81px;top:515px;width:82px;height:25px;color:#000000"><span><span style="display:inline-block;font-size:13px;transform:scaleX(0.92)">25-12-20</span></span></div><div class="c" style="left:164px;top:516px;width:82px;height:25px;color:#000000"><span><span style="position:relative;top:-1px"><span style="display:inline-block;width:7px;height:13px;background:#f00;color:#fff;font-weight:bold;font-size:11px;line-height:13px;text-align:center;vertical-align:1px;font-family:'Liberation Serif',serif">1</span>科隆</span></span></div><div class="c" style="left:247px;top:515px;width:97px;height:25px;color:#000000"><span><span style="display:inline-block;font-size:13px;transform:scaleX(0.92)"><span style="color:#ff0000">0-1</span>(0-0)</span></span></div><div class="c" style="left:345px;top:515px;width:41px;height:25px;color:#000000"><span><span style="display:inline-block;font-size:13px;transform:scaleX(0.92)">3-6</span></span></div><div class="c" style="left:387px;top:516px;width:82px;height:25px;color:#008000"><span>柏林联合</span></div><div class="c" style="left:470px;top:515px;width:64px;height:25px;color:#000000"><span><span style="display:inline-block;font-size:13px;transform:scaleX(0.92)">0.81</span></span></div><div class="c" style="left:535px;top:516px;width:66px;height:25px;color:#000000"><span>平手</span></div><div class="c" style="left:602px;top:515px;width:64px;height:25px;color:#000000"><span><span style="display:inline-block;font-size:13px;transform:scaleX(0.92)">1.07</span></span></div><div class="c" style="left:667px;top:515px;width:70px;height:25px;color:#000000"><span><span style="display:inline-block;font-size:13px;transform:scaleX(0.92)">2.58</span></span></div><div class="c" style="left:738px;top:515px;width:70px;height:25px;color:#000000"><span><span style="display:inline-block;font-size:13px;transform:scaleX(0.92)">3.23</span></span></div><div class="c" style="left:809px;top:515px;width:70px;height:25px;color:#000000"><span><span style="display:inline-block;font-size:13px;transform:scaleX(0.92)">2.81</span></span></div><div class="c" style="left:880px;top:516px;width:41px;height:25px;color:#ff0000"><span>胜</span></div><div class="c" style="left:922px;top:516px;width:41px;height:25px;color:#ff0000"><span>赢</span></div><div class="c" style="left:964px;top:516px;width:62px;height:25px;color:#0000ff"><span>小</span></div><div style="left:0px;top:539px;width:1027px;height:1px;background:#bbbbbb"></div><div style="left:0px;top:540px;width:1027px;height:25px;background:#fff"></div><div class="c" style="left:0px;top:542px;width:1027px;height:25px;letter-spacing:0.18px;color:#333"><span>近<span style="color:#ff0000">3</span>场,胜2平1负0, 胜率:<span style="color:#ff0000">66.7%</span> 让胜率:<span style="color:#ff0000">50%</span> 大率:<span style="color:#ff0000">50%</span> 单率:<span style="color:#ff0000">66.7%</span></span></div><div style="left:0px;top:565px;width:1027px;height:1px;background:#bbbbbb"></div><div style="left:80px;top:422px;width:1px;height:118px;background:#bbbbbb"></div><div style="left:163px;top:422px;width:1px;height:118px;background:#bbbbbb"></div><div style="left:246px;top:422px;width:1px;height:118px;background:#bbbbbb"></div><div style="left:344px;top:422px;width:1px;height:118px;background:#bbbbbb"></div><div style="left:386px;top:422px;width:1px;height:118px;background:#bbbbbb"></div><div style="left:469px;top:422px;width:1px;height:118px;background:#bbbbbb"></div><div style="left:534px;top:442px;width:1px;height:98px;background:#bbbbbb"></div><div style="left:601px;top:442px;width:1px;height:98px;background:#bbbbbb"></div><div style="left:666px;top:422px;width:1px;height:118px;background:#bbbbbb"></div><div style="left:737px;top:442px;width:1px;height:98px;background:#bbbbbb"></div><div style="left:808px;top:442px;width:1px;height:98px;background:#bbbbbb"></div><div style="left:879px;top:422px;width:1px;height:118px;background:#bbbbbb"></div><div style="left:921px;top:442px;width:1px;height:98px;background:#bbbbbb"></div><div style="left:963px;top:442px;width:1px;height:98px;background:#bbbbbb"></div><div style="left:1026px;top:422px;width:1px;height:118px;background:#bbbbbb"></div><div style="left:1026px;top:540px;width:1px;height:26px;background:#bbbbbb"></div><div style="left:0px;top:570px;width:1027px;height:1px;background:#50409c"></div>
</body></html>
